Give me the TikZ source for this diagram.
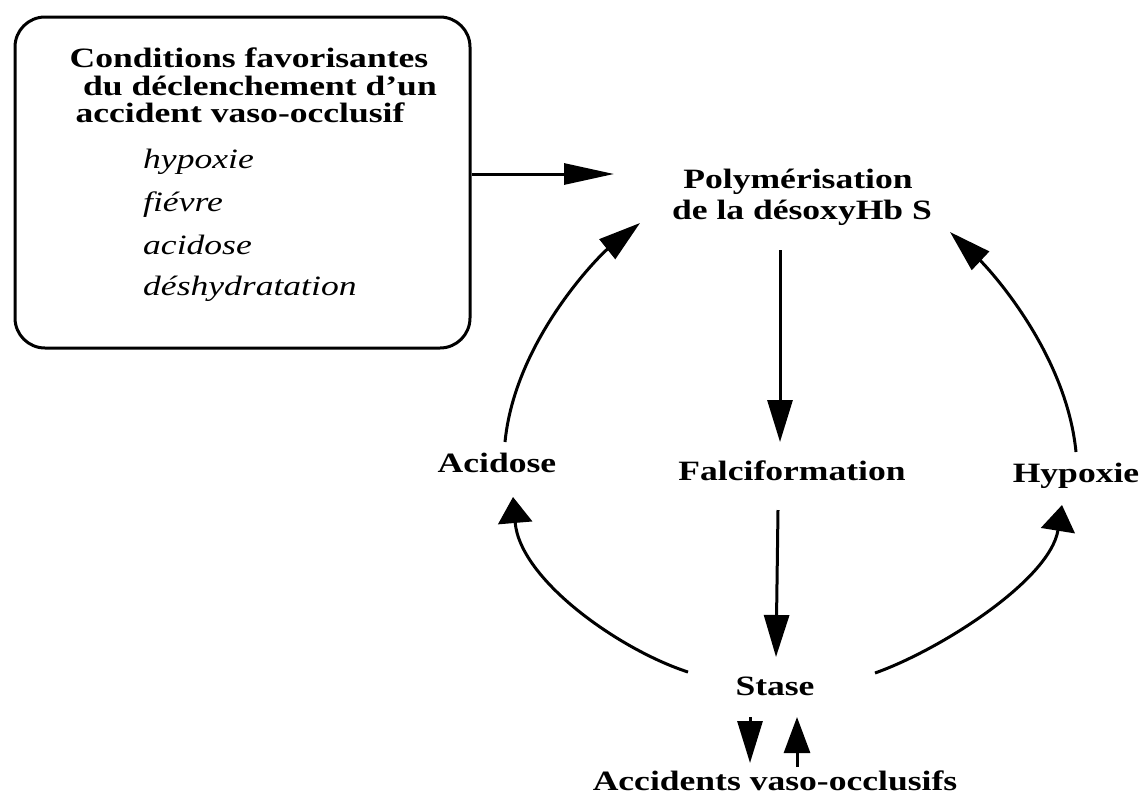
\documentclass[tikz,border=0pt]{standalone}
\usepackage{fontspec}
\setmainfont{Liberation Serif}[FakeStretch=1.27]
\usetikzlibrary{arrows.meta,calc}
\begin{document}
\begin{tikzpicture}[x=1pt,y=-1pt,
  lbl/.style={font=\fontsize{28}{28}\selectfont\bfseries, inner sep=0pt, anchor=base},
  itm/.style={font=\fontsize{28}{28}\selectfont\itshape, inner sep=0pt, anchor=base west},
  conn/.style={line width=3pt, -{Triangle[length=42pt,width=25pt]}},
  connh/.style={line width=3pt, -{Triangle[length=50pt,width=21pt]}},
  connb/.style={line width=3pt, -{Triangle[length=26pt,width=34pt]}},
  framebox/.style={draw, line width=3pt, rounded corners=30pt, inner sep=0pt}]
\useasboundingbox (0,0) rectangle (1145,796);
\fill[white] (0,0) rectangle (1145,796);

% left box
\node[framebox, minimum width=455pt, minimum height=331pt] (box) at (242.5,182.5) {};
\node[lbl] (t1) at (249,67) {Conditions favorisantes};
\node[lbl] (t2) at (260,95) {du déclenchement d'un};
\node[lbl] (t3) at (240,122) {accident vaso-occlusif};
\node[itm] (i1) at (143,168) {hypoxie};
\node[itm] (i2) at (143,211) {fiévre};
\node[itm] (i3) at (143,254) {acidose};
\node[itm] (i4) at (143,295) {déshydratation};

% cycle labels
\node[lbl] (poly1) at (798,188) {Polymérisation};
\node[lbl] (poly2) at (802,219) {de la désoxyHb S};
\node[lbl] (fal) at (792,480) {Falciformation};
\node[lbl] (acid) at (497,472) {Acidose};
\node[lbl] (hyp) at (1076,482) {Hypoxie};
\node[lbl] (stase) at (775,695) {Stase};
\node[lbl] (acc) at (775,790) {Accidents vaso-occlusifs};

% connector ends
\coordinate (hin) at (614,174);
\coordinate (pA) at (780,250);
\coordinate (fA) at (780,442);
\coordinate (fB) at (778,510);
\coordinate (sA) at (776,657);
\coordinate (aTop) at (505,442);
\coordinate (lTip) at (640,223);
\coordinate (hTop) at (1076,452);
\coordinate (rTip) at (950,232);
\coordinate (sL) at (688,672);
\coordinate (aBot) at (513,497);
\coordinate (sR) at (875,673);
\coordinate (hBot) at (1062,505);
\coordinate (d1) at (750,717);
\coordinate (d2) at (750,763);
\coordinate (u1) at (797,767);
\coordinate (u2) at (797,717);

\draw[connh] (box.east |- hin) -- (hin);
\draw[conn] (pA) -- (fA);
\draw[conn] (fB) -- (sA);
\draw[conn] (aTop) .. controls (515,340) and (600,255) .. (lTip);
\draw[conn] (hTop) .. controls (1066,350) and (985,265) .. (rTip);
\draw[connb] (sL) .. controls (620,650) and (520,580) .. (aBot);
\draw[connb] (sR) .. controls (940,650) and (1050,580) .. (hBot);
\draw[conn] (d1) -- (d2);
\draw[conn, -{Triangle[length=36pt,width=26pt]}] (u1) -- (u2);
\end{tikzpicture}
\end{document}
